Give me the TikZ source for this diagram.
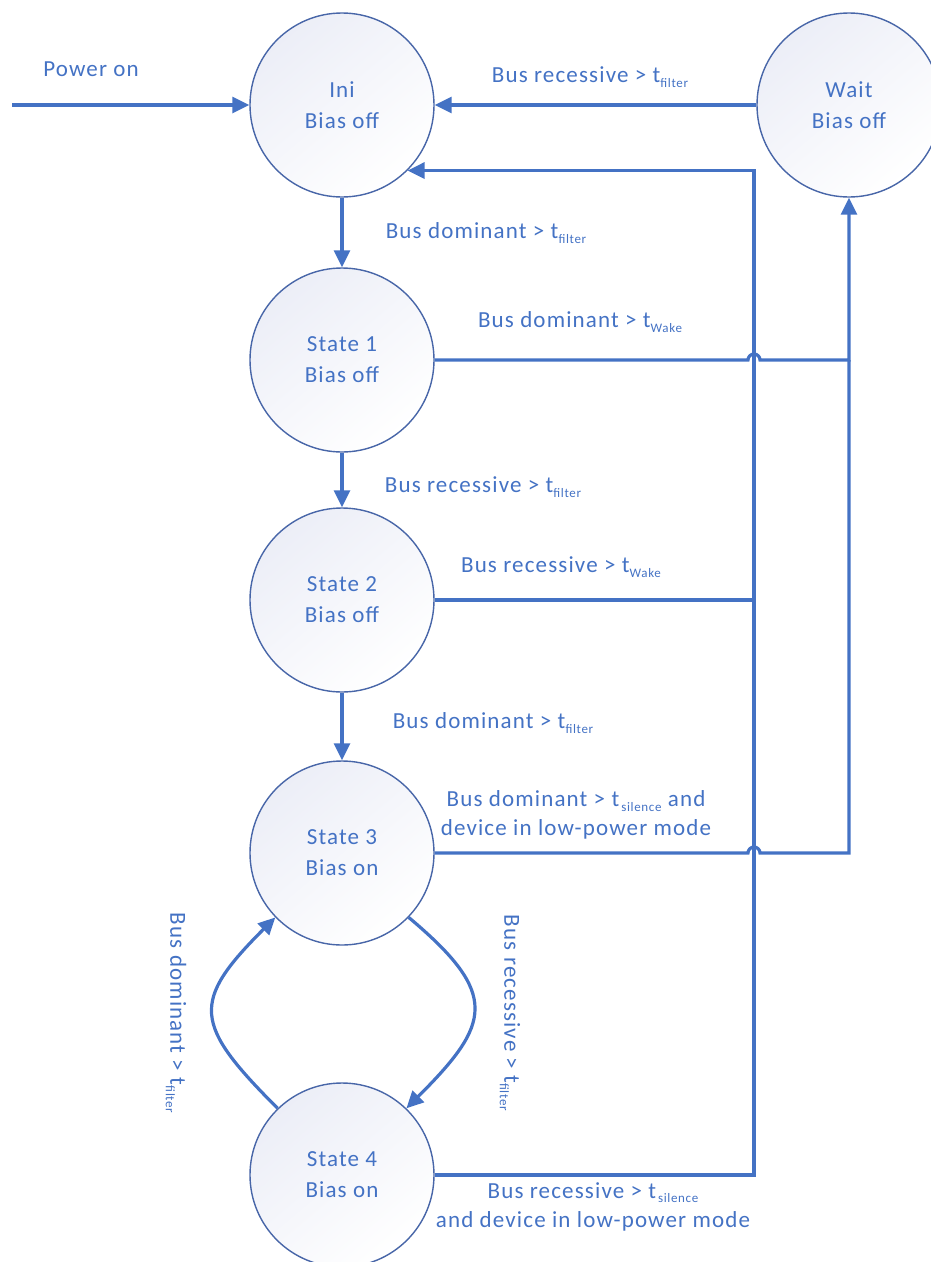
\documentclass[tikz,border=0pt]{standalone}
\usepackage{fontspec}
\setmainfont{Carlito}[LetterSpace=5]
\usepackage{tikz}
\usetikzlibrary{arrows.meta,automata}

\definecolor{busblue}{RGB}{68,114,196}
\definecolor{ringblue}{RGB}{72,102,168}
\definecolor{fillgray}{RGB}{236,238,247}
\newcommand\tsub[1]{\raisebox{-0.4ex}{\fontsize{13}{13}\selectfont #1}}

\begin{document}
\begin{tikzpicture}[x=1pt,y=1pt,>={Triangle[length=17pt,width=16pt]},
                    text=busblue]

  \tikzstyle{every state}=[circle,draw=ringblue,line width=1.4pt,
    minimum size=184pt,inner sep=0pt,align=center,
    top color=fillgray,bottom color=white,shading angle=40,
    font=\fontsize{23}{31}\selectfont]
  \tikzstyle{lbl}=[font=\fontsize{23}{29}\selectfont,inner sep=0pt,align=center]
  \tikzstyle{bus}=[line width=3.2pt,busblue]

  \useasboundingbox (0,-1262) rectangle (931,0);

  \node[state] (INI)  at (342,-105)  {Ini\\Bias off};
  \node[state] (WAIT) at (849,-105)  {Wait\\Bias off};
  \node[state] (S1)   at (342,-360)  {State 1\\Bias off};
  \node[state] (S2)   at (342,-600)  {State 2\\Bias off};
  \node[state] (S3)   at (342,-853)  {State 3\\Bias on};
  \node[state] (S4)   at (342,-1175) {State 4\\Bias on};

  \coordinate (PWR)  at (12,-105);
  \coordinate (BUSX) at (754,0);
  \coordinate (HOPL) at (748,0);

  \draw[bus,->] (PWR) -- (INI);
  \draw[bus,->] (WAIT) -- (INI);
  \draw[bus,->] (INI) -- (S1);
  \draw[bus,->] (S1) -- (S2);
  \draw[bus,->] (S2) -- (S3);

  % back to Ini
  \draw[bus,->] (S2.east) -- (S2.east -| BUSX) -- (INI.-45 -| BUSX) -- (INI.-45);
  \draw[bus] (S4.east) -- (S4.east -| BUSX) -- (S2.east -| BUSX);

  % to Wait, hopping over the line back to Ini
  \draw[bus,->] (S1.east) -- (S1.east -| HOPL)
    arc[start angle=180,end angle=0,radius=6pt]
    -- (S1.east -| WAIT.south) -- (WAIT.south);
  \draw[bus] (S3.east) -- (S3.east -| HOPL)
    arc[start angle=180,end angle=0,radius=6pt]
    -- (S3.east -| WAIT.south) -- (S1.east -| WAIT.south);

  \path
  (S3.-44) edge [bus,->,out=-40,in=45,looseness=1.6] (S4.46)
  (S4.134) edge [bus,->,out=135,in=-135,looseness=1.6] (S3.-136)
  ;

  \node[lbl] (LPWR) at (91,-69)   {Power on};
  \node[lbl] (LW0)  at (590,-77)  {Bus recessive > t\tsub{filter}};
  \node[lbl] (L01)  at (486,-233) {Bus dominant > t\tsub{filter}};
  \node[lbl] (L1W)  at (580,-322) {Bus dominant > t\tsub{Wake}};
  \node[lbl] (L12)  at (483,-487) {Bus recessive > t\tsub{filter}};
  \node[lbl] (L20)  at (561,-567) {Bus recessive > t\tsub{Wake}};
  \node[lbl] (L23)  at (493,-723) {Bus dominant > t\tsub{filter}};
  \node[lbl] (L3W)  at (576,-815) {Bus dominant > t\kern2pt\tsub{silence} and\\device in low-power mode};
  \node[lbl] (L40)  at (593,-1207) {Bus recessive > t\kern2pt\tsub{silence}\\and device in low-power mode};
  \node[lbl,rotate=-90] (L43) at (176,-1013) {Bus dominant > t\tsub{filter}};
  \node[lbl,rotate=-90] (L34) at (510,-1013) {Bus recessive > t\tsub{filter}};

\end{tikzpicture}
\end{document}
